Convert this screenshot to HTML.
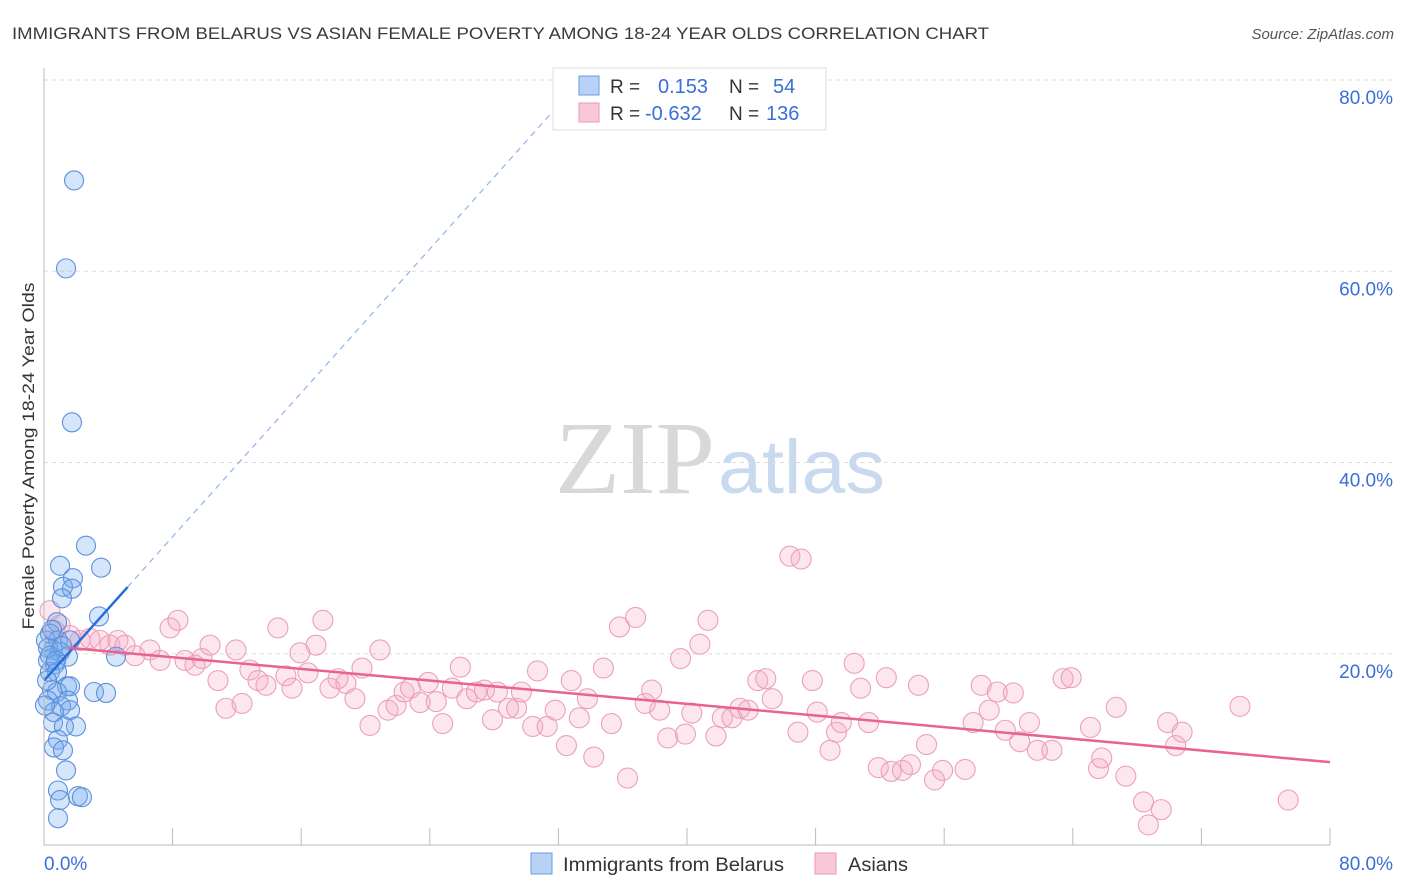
<!DOCTYPE html>
<html><head><meta charset="utf-8"><style>
body{margin:0;background:#fff;font-family:"Liberation Sans",sans-serif;}
#wrap{position:relative;width:1406px;height:892px;overflow:hidden;}
</style></head><body>
<div id="wrap">
<svg id="svg" width="1406" height="892" xmlns="http://www.w3.org/2000/svg">
<text x="12" y="39" font-size="17" fill="#3a3a3a" textLength="977" lengthAdjust="spacingAndGlyphs">IMMIGRANTS FROM BELARUS VS ASIAN FEMALE POVERTY AMONG 18-24 YEAR OLDS CORRELATION CHART</text>
<text x="1394" y="39" font-size="15" fill="#555" font-style="italic" text-anchor="end">Source: ZipAtlas.com</text>
<text transform="translate(34,456) rotate(-90)" font-size="17" fill="#333" text-anchor="middle" textLength="347" lengthAdjust="spacingAndGlyphs">Female Poverty Among 18-24 Year Olds</text>
<text x="555" y="493" font-size="104" fill="#d8d8d8" font-family="Liberation Serif,serif" textLength="160" lengthAdjust="spacingAndGlyphs">ZIP</text>
<text x="718" y="493" font-size="76" fill="#c9daf0" textLength="167" lengthAdjust="spacingAndGlyphs">atlas</text>
<g id="grid"></g><g id="pink"></g><g id="blue"></g><g id="lines"></g><g id="axes"></g>
<g>
<rect x="553" y="68" width="273" height="62" fill="#fff" stroke="#ddd"/>
<rect x="579" y="76" width="20" height="19" fill="#b7d2f4" stroke="#6a9ee0"/>
<rect x="579" y="103" width="20" height="19" fill="#f9c8d7" stroke="#ea9ab2"/>
<text x="610" y="93" font-size="19" fill="#333">R =</text><text x="658" y="93" font-size="20" fill="#3a6fd8">0.153</text>
<text x="729" y="93" font-size="19" fill="#333">N =</text><text x="773" y="93" font-size="20" fill="#3a6fd8">54</text>
<text x="610" y="120" font-size="19" fill="#333">R =</text><text x="645" y="120" font-size="20" fill="#3a6fd8">-0.632</text>
<text x="729" y="120" font-size="19" fill="#333">N =</text><text x="766" y="120" font-size="20" fill="#3a6fd8">136</text>
</g>
<g>
<rect x="531" y="853" width="21" height="21" fill="#b7d2f4" stroke="#6a9ee0"/>
<text x="563" y="871" font-size="19" fill="#333" textLength="221" lengthAdjust="spacingAndGlyphs">Immigrants from Belarus</text>
<rect x="815" y="853" width="21" height="21" fill="#f9c8d7" stroke="#ea9ab2"/>
<text x="848" y="871" font-size="19" fill="#333" textLength="60" lengthAdjust="spacingAndGlyphs">Asians</text>
</g>
</svg>
</div>
<script>
const yTicks=[20,40,60,80];
const xTickLabels=["0.0%","80.0%"];
const blueX=[1.87,1.37,1.74,2.61,1.0,3.55,1.8,1.18,1.74,1.12,3.42,0.81,0.37,0.87,1.62,0.56,1.0,1.49,0.25,0.68,4.48,0.37,0.81,1.43,1.62,0.5,0.81,3.11,3.86,1.49,0.25,1.06,1.62,0.62,1.99,0.56,1.24,0.87,0.62,1.18,1.37,0.87,1.0,2.11,2.36,0.87,0.12,0.25,0.19,0.37,1.12,0.06,0.5,0.75];
const blueY=[69.5,60.3,44.2,31.3,29.2,29.0,27.9,27.0,26.8,25.8,23.9,23.3,22.1,21.4,21.4,20.4,20.2,19.7,19.3,18.9,19.7,18.1,18.1,16.6,16.6,16.2,16.0,16.0,15.9,15.1,15.1,14.5,14.1,13.9,12.4,12.8,12.4,11.0,10.2,9.9,7.8,5.7,4.7,5.1,5.0,2.8,21.4,20.6,17.2,19.8,20.8,14.6,22.5,19.3];
const pinkX=[0.37,0.68,1.0,1.62,2.24,2.86,3.48,4.1,4.6,5.04,5.66,6.59,7.22,7.84,8.33,8.77,9.39,9.83,10.33,10.82,11.32,11.94,12.32,12.81,13.31,13.81,14.55,15.05,15.43,15.92,16.42,16.92,17.35,17.79,18.29,18.78,19.34,19.78,20.28,20.9,21.4,21.9,22.4,22.8,23.4,23.9,24.4,24.8,25.4,25.9,26.3,26.9,27.4,27.9,28.2,28.9,29.4,29.7,30.4,30.7,31.3,31.8,32.5,32.8,33.3,33.8,34.2,34.8,35.3,35.8,36.3,36.8,37.4,37.8,38.3,38.8,39.6,39.9,40.3,40.8,41.3,41.8,42.2,42.8,43.3,43.8,44.4,44.9,45.3,46.4,47.1,46.9,47.8,48.1,48.9,49.3,49.6,50.4,50.8,51.3,51.9,52.4,52.7,53.4,53.9,54.4,54.9,55.4,55.9,57.3,58.3,57.8,58.8,59.3,59.8,60.3,60.7,61.3,61.8,62.7,63.4,63.9,65.1,65.6,65.8,66.7,67.3,68.4,68.7,69.5,69.9,70.4,70.8,74.4,77.4];
const pinkY=[24.5,22.4,23.0,21.9,21.4,21.6,21.4,20.9,21.4,20.9,19.8,20.4,19.3,22.7,23.5,19.3,18.8,19.5,20.9,17.2,14.3,20.4,14.8,18.3,17.2,16.7,22.7,17.7,16.4,20.1,18.0,20.9,23.5,16.4,17.4,16.9,15.3,18.5,12.5,20.4,14.1,14.6,16.0,16.4,14.9,17.0,15.0,12.7,16.4,18.6,15.3,16.0,16.2,13.1,16.0,14.3,14.3,16.0,12.4,18.2,12.4,14.1,10.4,17.2,13.3,15.3,9.2,18.5,12.7,22.8,7.0,23.8,14.8,16.2,14.1,11.2,19.5,11.6,13.8,21.0,23.5,11.4,13.3,13.3,14.3,14.1,17.2,17.4,15.3,30.2,29.9,11.8,17.2,13.9,9.9,11.8,12.8,19.0,16.4,12.8,8.1,17.5,7.7,7.8,8.4,16.7,10.5,6.8,7.8,7.9,16.7,12.8,14.1,16.0,12.0,15.9,10.8,12.8,9.9,9.9,17.4,17.5,12.3,8.0,9.1,14.4,7.2,4.5,2.1,3.7,12.8,10.4,11.8,14.5,4.7];
const blueTrend=[17.2,1.88];
const pinkTrend=[20.85,-0.1523];
const NS="http://www.w3.org/2000/svg";
const X0=44,X1=1330,Y0=845,Y80=80;
const sx=v=>X0+(v/80)*(X1-X0);
const sy=v=>Y0-(v/80)*(Y0-Y80);
function mk(tag,attrs,parent){const e=document.createElementNS(NS,tag);for(const k in attrs)e.setAttribute(k,attrs[k]);document.getElementById(parent).appendChild(e);return e;}
yTicks.forEach(t=>{
 const l=mk('line',{x1:X0,x2:1394,y1:sy(t),y2:sy(t),stroke:'#ddd','stroke-dasharray':'4,4'},'grid');
 
 
 const tx=mk('text',{x:1393,y:sy(t)+24,'font-size':19,fill:'#3a6fd8','text-anchor':'end'},'axes');
 tx.textContent=t.toFixed(1)+'%';
 
 
});
const la=mk('line',{x1:X0,x2:X0,y1:68,y2:Y0,stroke:'#bbb'},'axes');


const ba=mk('line',{x1:X0,x2:X1,y1:Y0,y2:Y0,stroke:'#bbb'},'axes');


for(let i=0;i<=10;i++){const v=i*8;const t=mk('line',{x1:sx(v),x2:sx(v),y1:828,y2:Y0,stroke:'#bbb'},'axes');
 
 }
const xl0=mk('text',{x:44,y:870,'font-size':19,fill:'#3a6fd8'},'axes');xl0.textContent=xTickLabels[0];


const xl1=mk('text',{x:1393,y:870,'font-size':19,fill:'#3a6fd8','text-anchor':'end'},'axes');xl1.textContent=xTickLabels[1];


pinkX.forEach((x,i)=>{const c=mk('circle',{cx:sx(x),cy:sy(pinkY[i]),r:10,fill:'rgba(246,170,196,0.28)',stroke:'#ec9fb8','stroke-width':1.1},'pink');
 
 });
blueX.forEach((x,i)=>{const c=mk('circle',{cx:sx(x),cy:sy(blueY[i]),r:9.5,fill:'rgba(120,172,238,0.3)',stroke:'#5b90dc','stroke-width':1.1},'blue');
 
 });
const bt=v=>blueTrend[0]+blueTrend[1]*v;
const pt=v=>pinkTrend[0]+pinkTrend[1]*v;
const bs=mk('line',{x1:sx(0),y1:sy(bt(0)),x2:sx(5.2),y2:sy(bt(5.2)),stroke:'#2a6dd6','stroke-width':2.5},'lines');


const bd=mk('line',{x1:sx(5.2),y1:sy(bt(5.2)),x2:sx(32),y2:sy(bt(32)),stroke:'#8fb3e8','stroke-width':1.2,'stroke-dasharray':'6,5'},'lines');


const pl=mk('line',{x1:sx(1.5),y1:sy(pt(1.5)),x2:sx(80),y2:sy(pt(80)),stroke:'#e8638f','stroke-width':2.5},'lines');


</script>
</body></html>
